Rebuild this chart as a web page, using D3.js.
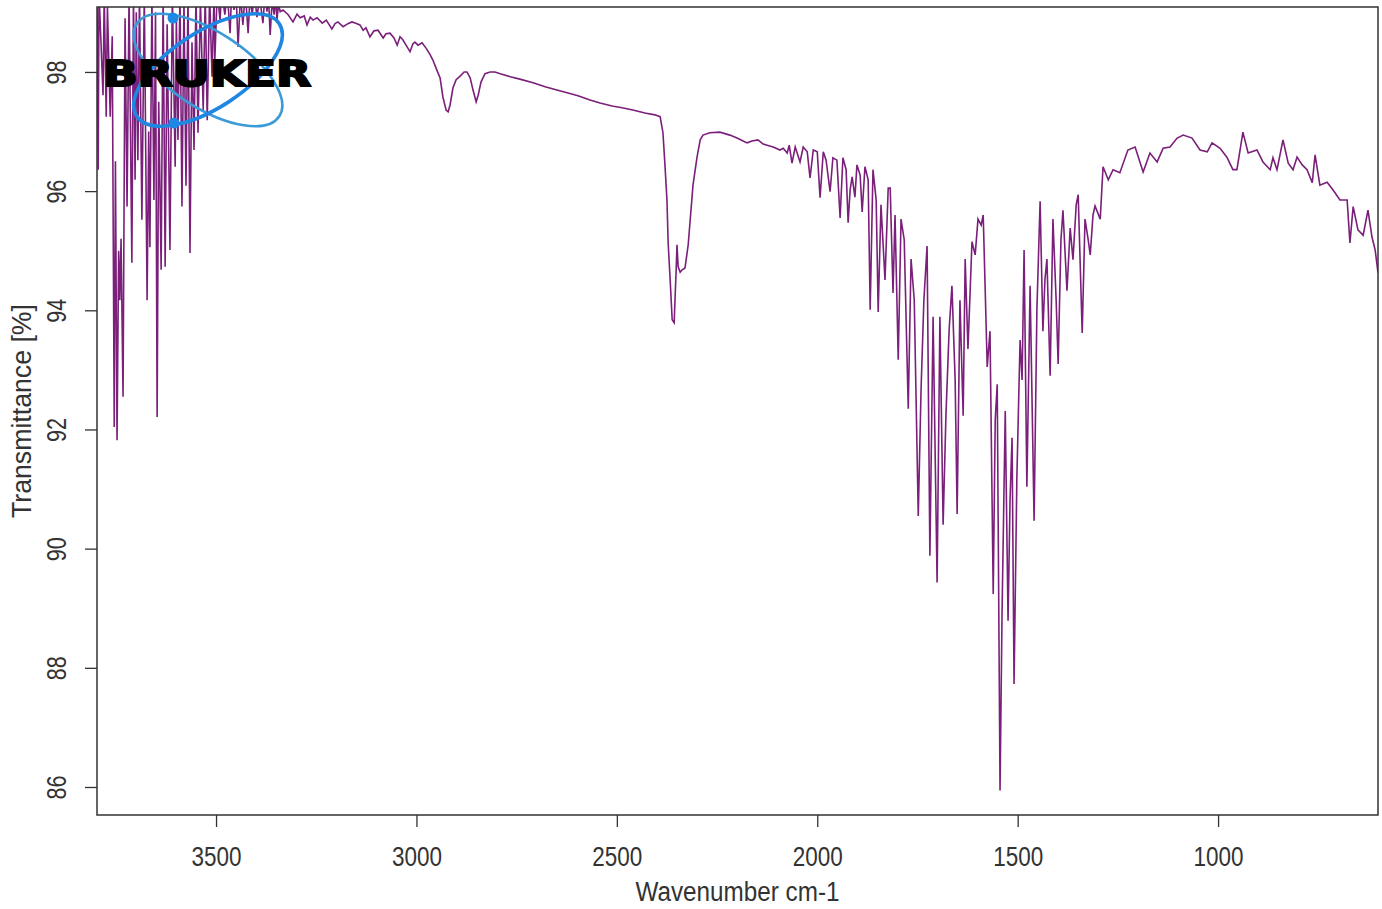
<!DOCTYPE html>
<html>
<head>
<meta charset="utf-8">
<script src="https://cdn.jsdelivr.net/npm/d3@7"></script>
<style>
  body { margin: 0; background: #fff; }
  text { font-family: "Liberation Sans", Arial, sans-serif; fill: #333; }
</style>
</head>
<body>
<div id="chart"></div>
<script>
// IR spectrum: [wavenumber cm-1, transmittance %]
var waterBand = [
  [3797,99.3],[3794,96.36],[3792,99.35],[3782,97.61],[3779,99.3],[3774,97.25],[3771,99.1],[3764,97.25],
  [3759,98.6],[3754,92.04],[3751,96.5],[3747,91.82],[3743,95.0],[3740,94.17],[3737,95.2],[3732,92.55],
  [3727,98.9],[3722,95.74],[3717,99.3],[3710,94.80],[3706,99.3],[3702,96.19],[3699,99.0],[3695,96.52],
  [3691,99.3],[3685,95.52],[3679,99.3],[3672,94.17],[3668,97.0],[3665,95.06],[3660,99.3],[3655,95.85],
  [3651,99.0],[3647,92.21],[3643,97.5],[3637,94.68],[3632,99.3],[3627,94.73],[3622,98.8],[3615,95.01],
  [3609,99.3],[3602,96.41],[3599,98.9],[3595,96.86],[3590,99.3],[3585,95.74],[3580,99.2],[3575,96.09],
  [3570,99.3],[3565,94.96],[3560,98.5],[3555,96.69],[3550,99.3],[3545,96.98],[3539,99.2],[3532,97.36],
  [3527,99.3],[3522,97.19],[3516,99.3],[3510,97.92],[3505,99.3],[3503,98.20],[3497,99.35]
];
var ohShoulder = [
  [3490,98.87],[3486,99.35],[3478,98.96],[3472,99.35],[3465,98.65],[3461,99.35],[3455,99.04],[3450,99.35],
  [3445,98.42],[3439,99.3],[3433,98.79],[3427,99.35],[3420,98.65],[3415,99.3],[3410,98.96],[3404,99.3],
  [3398,98.92],[3391,99.25],[3383,98.82],[3378,99.3],[3373,99.01],[3369,99.25],[3365,98.62],[3360,99.2],
  [3355,98.96],[3351,99.25],[3348,98.87],[3344,99.15],[3340,99.01]
];
var chStretch = [
  [3333,99.04],[3320,98.96],[3308,98.84],[3298,98.97],[3290,98.91],[3280,98.94],[3273,98.79],[3265,98.92],
  [3258,98.87],[3248,98.91],[3235,98.82],[3225,98.87],[3211,98.72],[3203,98.81],[3196,98.84],[3183,98.76],
  [3171,98.81],[3161,98.84],[3153,98.82],[3141,98.79],[3133,98.70],[3126,98.74],[3116,98.59],[3106,98.69],
  [3096,98.70],[3083,98.57],[3076,98.64],[3066,98.65],[3056,98.57],[3048,98.45],[3041,98.59],[3034,98.54],
  [3026,98.45],[3016,98.34],[3009,98.47],[3004,98.50],[2996,98.45],[2986,98.49],[2976,98.40],[2966,98.29],
  [2959,98.20],[2949,98.03],[2941,97.90],[2934,97.58],[2926,97.36],[2921,97.33],[2916,97.45],[2909,97.73],
  [2901,97.87],[2891,97.93],[2881,98.00],[2874,98.00],[2866,97.90],[2859,97.70],[2851,97.50],[2846,97.61],
  [2839,97.83],[2829,97.97],[2816,98.00],[2804,98.00],[2791,97.97],[2766,97.92],[2742,97.88],[2709,97.82],
  [2679,97.75],[2652,97.70],[2624,97.65],[2597,97.60],[2567,97.53],[2542,97.48],[2512,97.43],[2487,97.40],
  [2460,97.36],[2430,97.31],[2405,97.28]
];
var co2Band = [
  [2392,97.25],[2385,96.98],[2380,96.44],[2375,95.85],[2372,95.13],[2367,94.51],[2362,93.84],[2357,93.79],
  [2355,94.17],[2352,94.68],[2350,95.10],[2347,94.73],[2342,94.64],[2337,94.68],[2330,94.71],[2322,95.10],
  [2317,95.52],[2310,96.10],[2300,96.57],[2292,96.86],[2285,96.94],[2268,96.98],[2243,96.99],[2218,96.94],
  [2200,96.89],[2185,96.84],[2175,96.81],[2163,96.84],[2148,96.86],[2135,96.79],[2125,96.77],[2110,96.74],
  [2093,96.69]
];
var bendRegion = [
  [2085,96.72],[2075,96.64],[2070,96.77],[2063,96.47],[2055,96.74],[2043,96.49],[2035,96.74],[2025,96.66],
  [2018,96.22],[2010,96.69],[2000,96.66],[1993,95.89],[1985,96.66],[1978,96.52],[1968,95.99],[1961,96.56],
  [1951,96.52],[1943,95.55],[1936,96.56],[1928,96.36],[1923,95.47],[1918,96.02],[1913,96.24],[1906,95.90],
  [1901,96.44],[1893,96.27],[1888,95.65],[1881,96.41],[1873,96.19],[1868,94.01],[1861,96.36],[1853,95.85],
  [1848,93.97],[1841,95.77],[1831,94.51],[1823,96.05],[1818,96.05],[1811,94.29],[1806,95.60],[1798,93.17],
  [1791,95.53],[1783,95.18],[1773,92.35],[1766,94.86],[1758,94.17],[1748,90.55],[1741,92.68],[1734,94.17],
  [1726,95.08],[1719,89.88],[1711,93.89],[1701,89.43],[1694,93.89],[1686,90.40],[1679,92.23],[1671,93.67],
  [1664,94.41],[1656,92.83],[1651,90.58],[1644,94.17],[1636,92.23],[1631,94.86],[1624,93.35],[1614,95.15],
  [1606,94.93],[1599,95.53],[1591,95.43],[1586,95.60],[1581,94.34],[1576,93.05],[1569,93.65],[1561,89.24],
  [1556,92.16],[1551,92.76],[1544,85.94],[1539,88.91],[1531,92.31],[1524,88.79],[1519,90.82],[1514,91.86],
  [1509,87.73],[1502,91.19],[1494,93.50],[1489,92.83],[1484,95.01],[1477,91.04],[1469,94.41],[1459,90.47],
  [1452,94.02],[1444,95.83],[1437,93.65],[1432,94.51],[1427,94.86],[1419,92.90],[1412,95.53],[1404,94.17],
  [1399,93.10],[1392,95.18],[1387,95.68],[1377,94.33],[1369,95.38],[1362,94.85],[1354,95.77],[1349,95.94],
  [1339,93.62],[1332,95.53],[1324,95.18],[1319,94.93],[1312,95.60],[1307,95.75],[1294,95.53]
];
var fingerprint = [
  [1287,96.41],[1274,96.19],[1262,96.36],[1245,96.31],[1225,96.69],[1207,96.74],[1187,96.32],[1170,96.64],
  [1152,96.49],[1137,96.72],[1120,96.74],[1102,96.89],[1087,96.94],[1065,96.89],[1045,96.69],[1027,96.66],
  [1015,96.81],[995,96.72],[978,96.57],[963,96.36],[953,96.36],[938,96.99],[925,96.64],[903,96.69],
  [888,96.49],[870,96.36],[863,96.56],[853,96.36],[838,96.86],[825,96.47],[813,96.36],[803,96.57],
  [790,96.44],[778,96.36],[765,96.14],[758,96.61],[746,96.10],[728,96.15],[713,96.02],[696,95.85],
  [678,95.85],[671,95.13],[663,95.74],[651,95.35],[638,95.26],[626,95.68],[616,95.23],[608,95.01],
  [601,94.63]
];

var xTicks = [3500, 3000, 2500, 2000, 1500, 1000];
var yTicks = [86, 88, 90, 92, 94, 96, 98];
var xTitle = "Wavenumber cm-1";
var yTitle = "Transmittance [%]";

var spectrum = waterBand.concat(ohShoulder, chStretch, co2Band, bendRegion, fingerprint);

var width = 1382, height = 909;
var plotL = 97, plotR = 1378, plotT = 7, plotB = 815;

var svg = d3.select("#chart").append("svg")
  .attr("width", width)
  .attr("height", height);

svg.append("rect").attr("width", width).attr("height", height).attr("fill", "#fff");

var x = d3.scaleLinear().domain([3797, 601]).range([plotL, plotR]);
var y = d3.scaleLinear().domain([85.53, 99.09]).range([plotB, plotT]);

svg.append("clipPath").attr("id", "plotclip")
  .append("rect")
  .attr("x", plotL).attr("y", plotT)
  .attr("width", plotR - plotL).attr("height", plotB - plotT);

var line = d3.line()
  .x(function(d) { return x(d[0]); })
  .y(function(d) { return y(d[1]); });

svg.append("path")
  .datum(spectrum)
  .attr("clip-path", "url(#plotclip)")
  .attr("fill", "none")
  .attr("stroke", "#7a1f7a")
  .attr("stroke-width", 1.6)
  .attr("d", line);

// bruker logo sits on top of the trace
var logo = svg.append("g");
var cx = 208, cy = 70;
logo.append("ellipse")
  .attr("cx", cx).attr("cy", cy).attr("rx", 85).attr("ry", 38)
  .attr("transform", "rotate(33," + cx + "," + cy + ")")
  .attr("fill", "none").attr("stroke", "#3b9ad8").attr("stroke-width", 2.6);
logo.append("ellipse")
  .attr("cx", cx).attr("cy", cy).attr("rx", 85).attr("ry", 38)
  .attr("transform", "rotate(-33," + cx + "," + cy + ")")
  .attr("fill", "none").attr("stroke", "#1f86e2").attr("stroke-width", 3.6);
logo.append("circle").attr("cx", 173).attr("cy", 18).attr("r", 5.5).attr("fill", "#1e88e5");
logo.append("circle").attr("cx", 174).attr("cy", 123).attr("r", 5.5).attr("fill", "#1e88e5");
logo.append("text")
  .attr("x", 103).attr("y", 86)
  .attr("textLength", 208).attr("lengthAdjust", "spacingAndGlyphs")
  .style("font-family", "'DejaVu Sans', sans-serif")
  .style("font-weight", "bold")
  .style("font-size", "36px")
  .style("fill", "#000")
  .style("stroke", "#000")
  .style("stroke-width", 2)
  .text("BRUKER");

// axes, R style
var xAxis = svg.append("g")
  .attr("transform", "translate(0," + plotB + ")")
  .call(d3.axisBottom(x).tickValues(xTicks).tickSize(12).tickFormat(d3.format("d")));
xAxis.select(".domain").remove();
xAxis.selectAll("line").attr("stroke", "#333").attr("stroke-width", 1.3);
xAxis.selectAll("text")
  .attr("y", 51).attr("dy", null)
  .attr("fill", "#333")
  .attr("textLength", 50).attr("lengthAdjust", "spacingAndGlyphs")
  .style("font-size", "28px");

var yAxis = svg.append("g")
  .attr("transform", "translate(" + plotL + ",0)")
  .call(d3.axisLeft(y).tickValues(yTicks).tickSize(12));
yAxis.select(".domain").remove();
yAxis.selectAll("line").attr("stroke", "#333").attr("stroke-width", 1.3);
yAxis.selectAll("text")
  .attr("x", null).attr("dy", null)
  .attr("text-anchor", "middle")
  .attr("transform", "translate(-31,0) rotate(-90)")
  .attr("fill", "#333")
  .attr("textLength", 24).attr("lengthAdjust", "spacingAndGlyphs")
  .style("font-size", "28px");

svg.append("rect")
  .attr("x", plotL).attr("y", plotT)
  .attr("width", plotR - plotL).attr("height", plotB - plotT)
  .attr("fill", "none").attr("stroke", "#333").attr("stroke-width", 1.5);

svg.append("text")
  .attr("x", (plotL + plotR) / 2).attr("y", 901)
  .attr("text-anchor", "middle")
  .attr("textLength", 204).attr("lengthAdjust", "spacingAndGlyphs")
  .style("font-size", "27px")
  .text(xTitle);

svg.append("text")
  .attr("transform", "translate(31," + (plotT + plotB) / 2 + ") rotate(-90)")
  .attr("text-anchor", "middle")
  .attr("textLength", 214).attr("lengthAdjust", "spacingAndGlyphs")
  .style("font-size", "27px")
  .text(yTitle);
</script>
</body>
</html>
